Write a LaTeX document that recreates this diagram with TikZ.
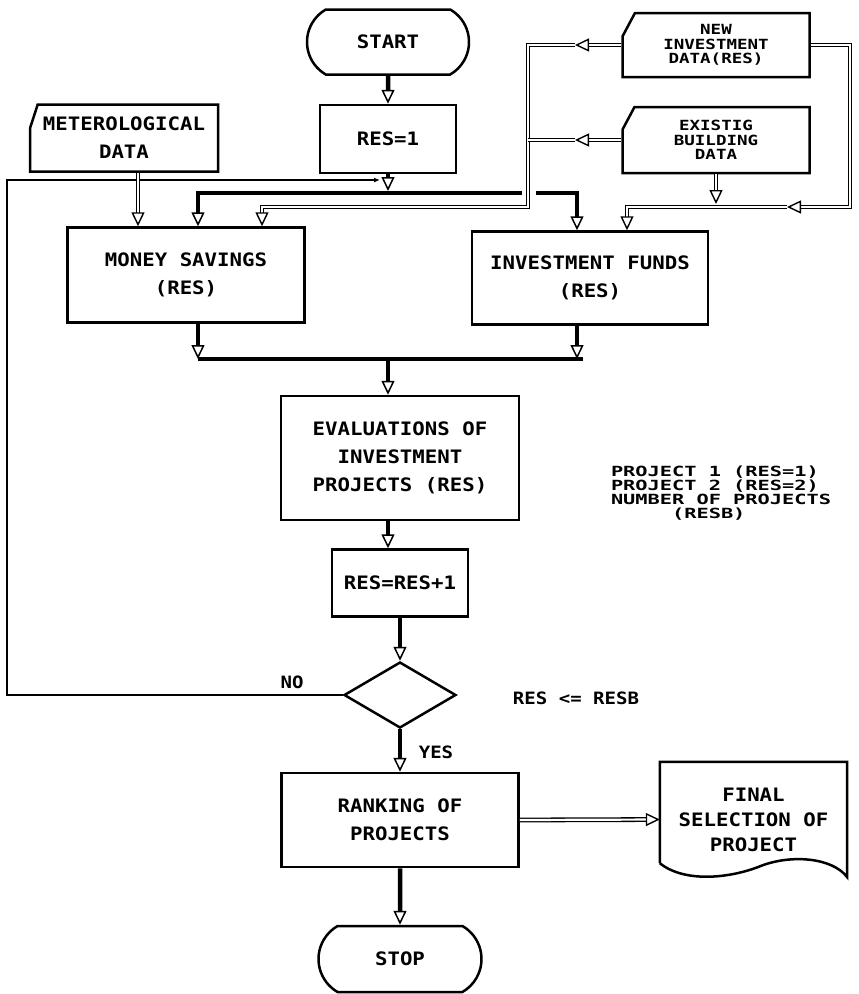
\documentclass[tikz,border=0pt]{standalone}
\usepackage{fontspec}
\newfontfamily\flowfont[FakeStretch=1.12]{DejaVu Sans Mono}
\newfontfamily\smallflow[FakeStretch=1.25]{DejaVu Sans Mono}
\newfontfamily\noteflow[FakeStretch=1.45]{DejaVu Sans Mono}
\usetikzlibrary{positioning}
\usetikzlibrary{shapes.geometric,shapes.misc}
\usetikzlibrary{arrows.meta}

\begin{document}
\begin{tikzpicture}[x=1pt, y=-1pt,
    proc/.style={draw, line width=2.5pt, rectangle, align=center, inner sep=0pt,
        font={\flowfont\bfseries\fontsize{18.5}{28}\selectfont}},
    term/.style={proc, rounded rectangle, rounded rectangle arc length=120},
    card/.style={draw, line width=2.5pt, chamfered rectangle,
        chamfered rectangle corners=north west, chamfered rectangle angle=28,
        chamfered rectangle xsep=23pt, align=center, inner sep=0pt,
        font={\smallflow\bfseries\fontsize{14}{14.5}\selectfont}},
    flow/.style={line width=4.5pt,
        -{Triangle[open, length=14pt 0, width=13pt 0, line width=1.5pt 0]}},
    dbl/.style={double=white, double distance=2.2pt, line width=1.3pt},
    dblflow/.style={dbl,
        -{Triangle[open, length=14pt 0, width=13pt 0, line width=1.4pt 0]}},
    loopline/.style={line width=1.3pt},
    note/.style={font={\flowfont\bfseries\fontsize{17}{20}\selectfont}},
]
    \useasboundingbox (0,0) rectangle (859,994);

    % start and counter
    \node[term, minimum width=162pt, minimum height=65pt] (start) at (388,42) {START};
    \node[proc, minimum width=136pt, minimum height=68pt] (res1) at (388,139) {RES=1};

    % input data
    \node[card, chamfered rectangle angle=18, chamfered rectangle xsep=30pt,
        font={\flowfont\bfseries\fontsize{18.5}{28}\selectfont},
        minimum width=188pt, minimum height=67pt] (meteo) at (124,138) {METEROLOGICAL\\DATA};
    \node[card, minimum width=187pt, minimum height=64pt] (newdata) at (716,45) {NEW\\INVESTMENT\\DATA(RES)};
    \node[card, minimum width=187pt, minimum height=66pt] (exist) at (716,140) {EXISTIG\\BUILDING\\DATA};

    % calculations
    \node[proc, minimum width=237pt, minimum height=95pt] (savings) at (186,275) {MONEY SAVINGS\\(RES)};
    \node[proc, minimum width=236pt, minimum height=93pt] (funds) at (590,278) {INVESTMENT FUNDS\\(RES)};
    \node[proc, minimum width=238pt, minimum height=124pt] (evalu) at (400,458) {EVALUATIONS OF\\INVESTMENT\\PROJECTS (RES)};
    \node[proc, minimum width=136pt, minimum height=67pt] (resinc) at (400,583) {RES=RES+1};
    \node[draw, diamond, line width=2.5pt, minimum width=112pt, minimum height=66pt,
        inner sep=0pt] (cond) at (400,695) {};
    \node[proc, minimum width=237pt, minimum height=94pt] (rank) at (400,820) {RANKING OF\\PROJECTS};
    \node[term, minimum width=163pt, minimum height=66pt] (stop) at (400,959) {STOP};
    \node[align=center, inner sep=0pt, minimum width=187pt, minimum height=115pt,
        font={\flowfont\bfseries\fontsize{18.5}{25}\selectfont}] (final) at (753.5,819.5) {FINAL\\SELECTION OF\\PROJECT};

    % labels
    \node[note] (no) at (292,682) {NO};
    \node[note] (yes) at (436,752) {YES};
    \node[note] (test) at (576,698) {RES <= RESB};
    \node[align=left, font={\noteflow\bfseries\fontsize{14}{13.9}\selectfont}] (notes) at (721,493)
        {PROJECT 1 (RES=1)\\PROJECT 2 (RES=2)\\NUMBER OF PROJECTS\\\phantom{NUMBE}(RESB)};

    % document outline
    \draw[line width=2.5pt] ([yshift=14pt]final.south west) |- (final.north east) -- (final.south east)
        .. controls +(-15,-20) and +(30,-12) .. ([shift={(-87,-11)}]final.south east)
        .. controls +(-30,12) and +(25,20) .. ([yshift=14pt]final.south west);

    % junction points
    \coordinate (joinTop) at (388,191);
    \coordinate (barL) at (198,193);
    \coordinate (barR) at (577,193);
    \coordinate (gapL) at (522,193);
    \coordinate (gapR) at (536,193);
    \coordinate (bar2L) at (198,359);
    \coordinate (bar2M) at (388,359);
    \coordinate (bar2R) at (583,359);
    \coordinate (loopTop) at (7,180);
    \coordinate (loopEnd) at (380,180);
    \coordinate (ndTip) at (575,45);
    \coordinate (busTop) at (528,45);
    \coordinate (busMid) at (528,140);
    \coordinate (busLow) at (528,207);
    \coordinate (msIn) at (262,207);
    \coordinate (exTip) at (575,140);
    \coordinate (rbTop) at (850,45);
    \coordinate (rbLow) at (850,207);
    \coordinate (rbTip) at (787,207);
    \coordinate (fdIn) at (627,207);

    % main flow
    \draw[flow] (start) -- (res1);
    \draw[flow] (res1.south) -- (joinTop);
    \draw[flow] (gapL) -- (barL) -- (barL |- savings.north);
    \draw[flow] (gapR) -- (barR) -- (barR |- funds.north);
    \draw[flow] (savings.south -| barL) -- (bar2L);
    \draw[flow] (funds.south -| barR) -- (barR |- bar2L);
    \draw[line width=4.5pt] (bar2L) -- (bar2R);
    \draw[flow] (bar2M) -- (bar2M |- evalu.north);
    \draw[flow] (evalu.south -| bar2M) -- (bar2M |- resinc.north);
    \draw[flow] (resinc) -- (cond);
    \draw[flow] (cond) -- (rank);
    \draw[flow] (rank) -- (stop);

    % loop back
    \draw[loopline, -{Latex[length=6pt, width=5pt]}] (cond.west) -| (loopTop) -- (loopEnd);

    % data lines
    \draw[dblflow] ([xshift=14pt]meteo.south) -- ([xshift=14pt]meteo.south |- savings.north);
    \draw[dblflow] (newdata.west) -- (ndTip);
    \draw[dblflow] (ndTip) -- (busTop) -- (busLow) -- (msIn) -- (msIn |- savings.north);
    \draw[dblflow] (exist.west) -- (exTip);
    \draw[dbl] (exTip) -- (busMid);
    \draw[dblflow] (newdata.east) -- (rbTop) -- (rbLow) -- (rbTip);
    \draw[dblflow] (rbTip) -- (fdIn) -- (fdIn |- funds.north);
    \draw[dblflow] (exist.south) -- ([yshift=3pt]exist.south |- fdIn);
    \draw[dblflow] (rank.east) -- (final.west);
\end{tikzpicture}
\end{document}
